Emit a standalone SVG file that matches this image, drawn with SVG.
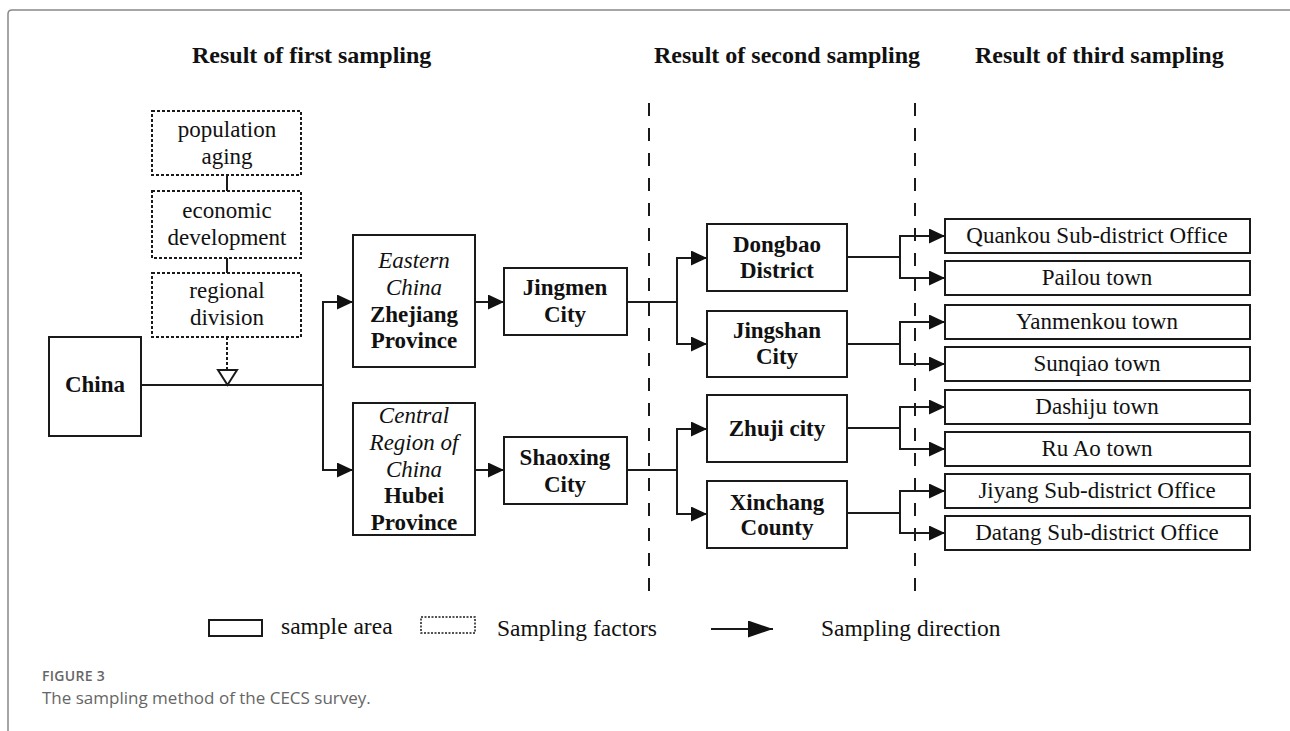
<svg xmlns="http://www.w3.org/2000/svg" width="1290" height="731" viewBox="0 0 1290 731">
<style>
.t{font-family:"Liberation Serif","Times New Roman",serif;font-size:23px;fill:#111;text-anchor:middle}
.b{font-weight:bold}
.i{font-style:italic}
.h{font-family:"Liberation Serif","Times New Roman",serif;font-size:24px;font-weight:bold;fill:#111}
.lg{font-family:"Liberation Serif","Times New Roman",serif;font-size:23.5px;fill:#111}
.box{fill:#fff;stroke:#1a1a1a;stroke-width:2}
.fac{fill:#fff;stroke:#1a1a1a;stroke-width:2;stroke-dasharray:3 2}
.ln{fill:none;stroke:#1a1a1a;stroke-width:2}
.dash{fill:none;stroke:#1a1a1a;stroke-width:2;stroke-dasharray:13 12}
.cap{font-family:"Open Sans","Noto Sans",sans-serif;fill:#666}
</style>
<defs>
<marker id="ah" markerUnits="userSpaceOnUse" markerWidth="17" markerHeight="15" refX="16" refY="7.5" orient="auto">
<path d="M0,0 L16,7.5 L0,15 Z" fill="#111"/>
</marker>
<marker id="ahl" markerUnits="userSpaceOnUse" markerWidth="26" markerHeight="17" refX="25" refY="8.5" orient="auto">
<path d="M0,0 L25,8.5 L0,17 Z" fill="#111"/>
</marker>
</defs>
<rect width="1290" height="731" fill="#fff"/>
<path d="M8,731 V14 Q8,10 12,10 H1290" fill="none" stroke="#888" stroke-width="1.5"/>

<g id="titles">
<text class="h" x="192" y="63">Result of first sampling</text>
<text class="h" x="654" y="63">Result of second sampling</text>
<text class="h" x="975" y="63">Result of third sampling</text>
</g>

<g id="dividers">
<line class="dash" x1="649" y1="103" x2="649" y2="603"/>
<line class="dash" x1="915" y1="103" x2="915" y2="603"/>
</g>

<g id="connectors">
<line class="ln" x1="227" y1="175" x2="227" y2="191"/>
<line class="ln" x1="227" y1="258" x2="227" y2="273"/>
<line x1="227" y1="337" x2="227" y2="370" stroke="#1a1a1a" stroke-width="2" stroke-dasharray="3 2"/>
<path d="M218,370 L237,370 L227.5,385 Z" fill="#fff" stroke="#1a1a1a" stroke-width="2"/>
<path class="ln" d="M141,385 H322"/>
<path class="ln" d="M323,302 V470"/>
<path class="ln" d="M322,302 H353" marker-end="url(#ah)"/>
<path class="ln" d="M322,470 H353" marker-end="url(#ah)"/>
<path class="ln" d="M475,302 H504" marker-end="url(#ah)"/>
<path class="ln" d="M475,470 H504" marker-end="url(#ah)"/>
<path class="ln" d="M627,302 H677"/>
<path class="ln" d="M677,258 V344"/>
<path class="ln" d="M676,258 H707" marker-end="url(#ah)"/>
<path class="ln" d="M676,344 H707" marker-end="url(#ah)"/>
<path class="ln" d="M627,470 H677"/>
<path class="ln" d="M677,429 V514"/>
<path class="ln" d="M676,429 H707" marker-end="url(#ah)"/>
<path class="ln" d="M676,514 H707" marker-end="url(#ah)"/>
<path class="ln" d="M847,257 H900"/>
<path class="ln" d="M900,236 V278"/>
<path class="ln" d="M899,236 H945" marker-end="url(#ah)"/>
<path class="ln" d="M899,278 H945" marker-end="url(#ah)"/>
<path class="ln" d="M847,344 H900"/>
<path class="ln" d="M900,322 V364"/>
<path class="ln" d="M899,322 H945" marker-end="url(#ah)"/>
<path class="ln" d="M899,364 H945" marker-end="url(#ah)"/>
<path class="ln" d="M847,428 H900"/>
<path class="ln" d="M900,407 V449"/>
<path class="ln" d="M899,407 H945" marker-end="url(#ah)"/>
<path class="ln" d="M899,449 H945" marker-end="url(#ah)"/>
<path class="ln" d="M847,513 H900"/>
<path class="ln" d="M900,491 V533"/>
<path class="ln" d="M899,491 H945" marker-end="url(#ah)"/>
<path class="ln" d="M899,533 H945" marker-end="url(#ah)"/>
</g>

<g id="f-aging"><rect class="fac" x="152" y="111" width="149" height="64"/>
<text class="t" x="227" y="137">population</text><text class="t" x="227" y="164">aging</text></g>
<g id="f-economic"><rect class="fac" x="152" y="191" width="149" height="67"/>
<text class="t" x="227" y="218">economic</text><text class="t" x="227" y="245">development</text></g>
<g id="f-regional"><rect class="fac" x="152" y="273" width="149" height="64"/>
<text class="t" x="227" y="298">regional</text><text class="t" x="227" y="325">division</text></g>

<g id="china"><rect class="box" x="49" y="337" width="92" height="99"/>
<text class="t b" x="95" y="392">China</text></g>

<g id="zhejiang"><rect class="box" x="353" y="235" width="122" height="132"/>
<text class="t i" x="414" y="268">Eastern</text>
<text class="t i" x="414" y="295">China</text>
<text class="t b" x="414" y="322">Zhejiang</text>
<text class="t b" x="414" y="348">Province</text></g>

<g id="hubei"><rect class="box" x="353" y="403" width="122" height="132"/>
<text class="t i" x="414" y="423">Central</text>
<text class="t i" x="414" y="450">Region of</text>
<text class="t i" x="414" y="477">China</text>
<text class="t b" x="414" y="503">Hubei</text>
<text class="t b" x="414" y="530">Province</text></g>

<g id="jingmen"><rect class="box" x="504" y="268" width="123" height="67"/>
<text class="t b" x="565" y="295">Jingmen</text><text class="t b" x="565" y="322">City</text></g>
<g id="shaoxing"><rect class="box" x="504" y="437" width="123" height="67"/>
<text class="t b" x="565" y="465">Shaoxing</text><text class="t b" x="565" y="492">City</text></g>

<g id="dongbao"><rect class="box" x="707" y="224" width="140" height="67"/>
<text class="t b" x="777" y="252">Dongbao</text><text class="t b" x="777" y="278">District</text></g>
<g id="jingshan"><rect class="box" x="707" y="311" width="140" height="66"/>
<text class="t b" x="777" y="338">Jingshan</text><text class="t b" x="777" y="364">City</text></g>
<g id="zhuji"><rect class="box" x="707" y="395" width="140" height="67"/>
<text class="t b" x="777" y="436">Zhuji city</text></g>
<g id="xinchang"><rect class="box" x="707" y="481" width="140" height="67"/>
<text class="t b" x="777" y="510">Xinchang</text><text class="t b" x="777" y="535">County</text></g>

<g id="quankou"><rect class="box" x="945" y="219" width="305" height="34"/><text class="t" x="1097" y="243">Quankou Sub-district Office</text></g>
<g id="pailou"><rect class="box" x="945" y="261" width="305" height="34"/><text class="t" x="1097" y="285">Pailou town</text></g>
<g id="yanmenkou"><rect class="box" x="945" y="305" width="305" height="34"/><text class="t" x="1097" y="329">Yanmenkou town</text></g>
<g id="sunqiao"><rect class="box" x="945" y="347" width="305" height="34"/><text class="t" x="1097" y="371">Sunqiao town</text></g>
<g id="dashiju"><rect class="box" x="945" y="390" width="305" height="34"/><text class="t" x="1097" y="414">Dashiju town</text></g>
<g id="ruao"><rect class="box" x="945" y="432" width="305" height="34"/><text class="t" x="1097" y="456">Ru Ao town</text></g>
<g id="jiyang"><rect class="box" x="945" y="474" width="305" height="34"/><text class="t" x="1097" y="498">Jiyang Sub-district Office</text></g>
<g id="datang"><rect class="box" x="945" y="516" width="305" height="34"/><text class="t" x="1097" y="540">Datang Sub-district Office</text></g>

<g id="legend">
<rect class="box" x="209" y="620" width="53" height="16"/>
<text class="lg" x="281" y="634">sample area</text>
<rect x="421" y="617" width="54" height="16" fill="#fff" stroke="#1a1a1a" stroke-width="1.5" stroke-dasharray="2 1.5"/>
<text class="lg" x="497" y="636">Sampling factors</text>
<line class="ln" x1="711" y1="629" x2="773" y2="629" marker-end="url(#ahl)"/>
<text class="lg" x="821" y="636">Sampling direction</text>
</g>

<g id="caption">
<text class="cap" x="42" y="681" font-size="14" font-weight="600" letter-spacing="0.3">FIGURE 3</text>
<text class="cap" x="42" y="704" font-size="17">The sampling method of the CECS survey.</text>
</g>
</svg>
